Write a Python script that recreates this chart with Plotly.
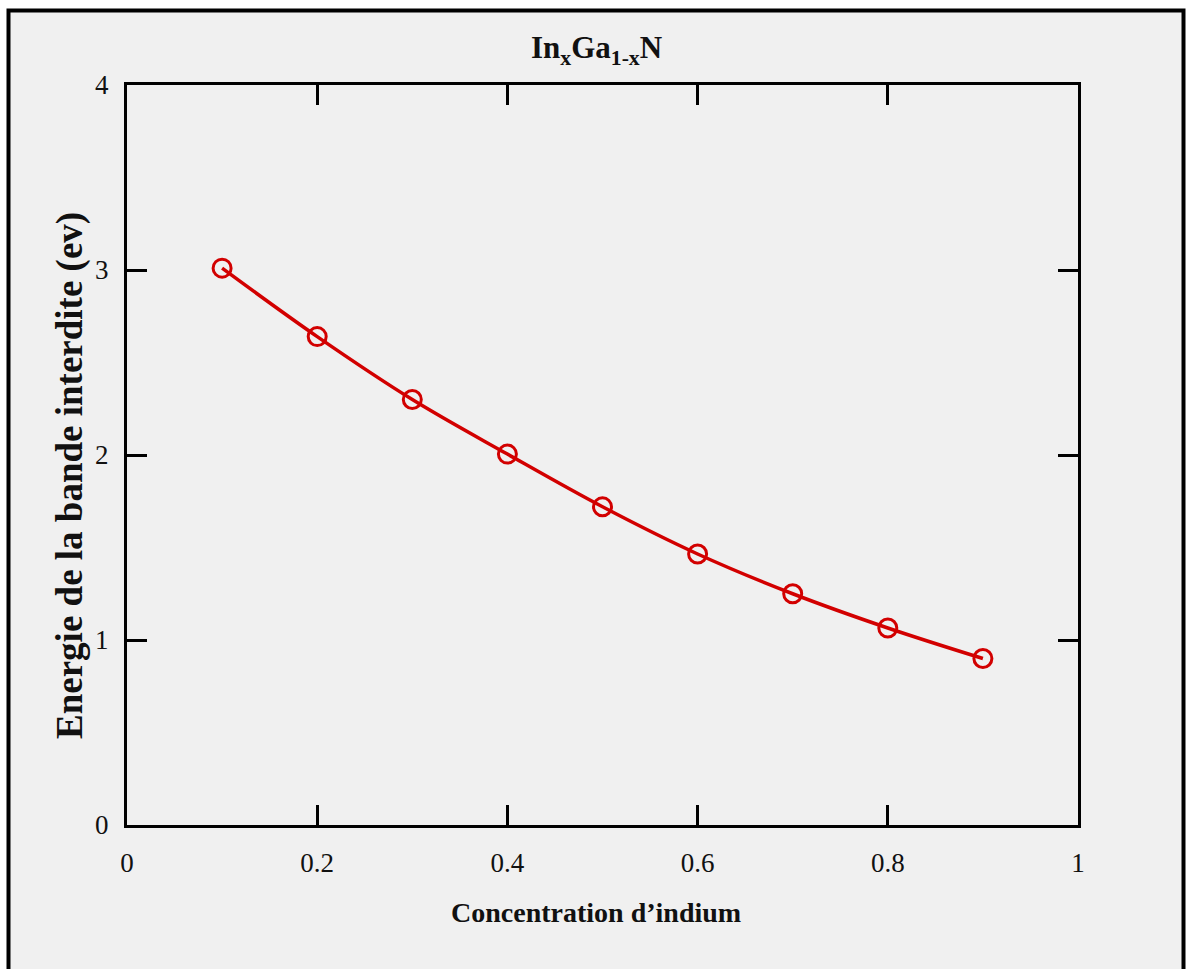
import plotly.graph_objects as go

# Indium concentration x and band-gap energy of InxGa1-xN (eV)
concentration = [0.1, 0.2, 0.3, 0.4, 0.5, 0.6, 0.7, 0.8, 0.9]
energie = [3.01, 2.64, 2.30, 2.005, 1.72, 1.465, 1.25, 1.065, 0.90]

x_ticks = [0, 0.2, 0.4, 0.6, 0.8, 1]
x_tick_text = ["0", "0.2", "0.4", "0.6", "0.8", "1"]
y_ticks = [0, 1, 2, 3, 4]
y_tick_text = ["0", "1", "2", "3", "4"]

W, H = 1187, 969
L, R, T, B = 127, 109, 85, 144
pw, ph = W - L - R, H - T - B

red = "#d20000"
ink = "#111111"
serif = "Liberation Serif, Times New Roman, serif"


def px_x(p):
    return (p - L) / pw


def px_y(p):
    return (H - B - p) / ph


fig = go.Figure()
fig.add_trace(go.Scatter(
    x=concentration, y=energie,
    mode="lines+markers",
    line=dict(color=red, width=3.5, shape="spline"),
    marker=dict(symbol="circle-open", size=18, color=red, line=dict(width=3, color=red)),
    showlegend=False,
))

axis_common = dict(
    showline=True, linecolor="black", linewidth=3, mirror="ticks",
    ticks="inside", ticklen=20, tickwidth=3, tickcolor="black",
    showgrid=False, zeroline=False,
    tickfont=dict(family=serif, size=27, color=ink),
)

fig.update_xaxes(range=[0, 1], tickvals=x_ticks, ticktext=x_tick_text,
                 ticklabelstandoff=12, **axis_common)
fig.update_yaxes(range=[0, 4], tickvals=y_ticks, ticktext=y_tick_text,
                 ticklabelstandoff=10, **axis_common)

fig.add_shape(type="rect", xref="paper", yref="paper",
              x0=px_x(8.5), x1=px_x(1183.5), y0=px_y(1000), y1=px_y(10.5),
              line=dict(color="black", width=4), fillcolor="#f0f0f0", layer="below")

fig.add_annotation(text="<b>In<sub>x</sub>Ga<sub>1-x</sub>N</b>", xref="paper", yref="paper",
                   x=px_x(596), y=px_y(50), showarrow=False, xanchor="center", yanchor="middle",
                   font=dict(family=serif, size=31, color=ink))
fig.add_annotation(text="<b>Concentration d\u2019indium</b>", xref="paper", yref="paper",
                   x=px_x(596), y=px_y(912), showarrow=False, xanchor="center", yanchor="middle",
                   font=dict(family=serif, size=28, color=ink))
fig.add_annotation(text="<b>Energie de la bande interdite (ev)</b>", xref="paper", yref="paper",
                   x=px_x(70), y=px_y(476), showarrow=False, xanchor="center", yanchor="middle",
                   textangle=-90, font=dict(family=serif, size=37, color=ink))

fig.update_layout(
    width=W, height=H,
    margin=dict(l=L, r=R, t=T, b=B, autoexpand=False),
    paper_bgcolor="white", plot_bgcolor="#f0f0f0",
)

fig.write_html("out.html")
